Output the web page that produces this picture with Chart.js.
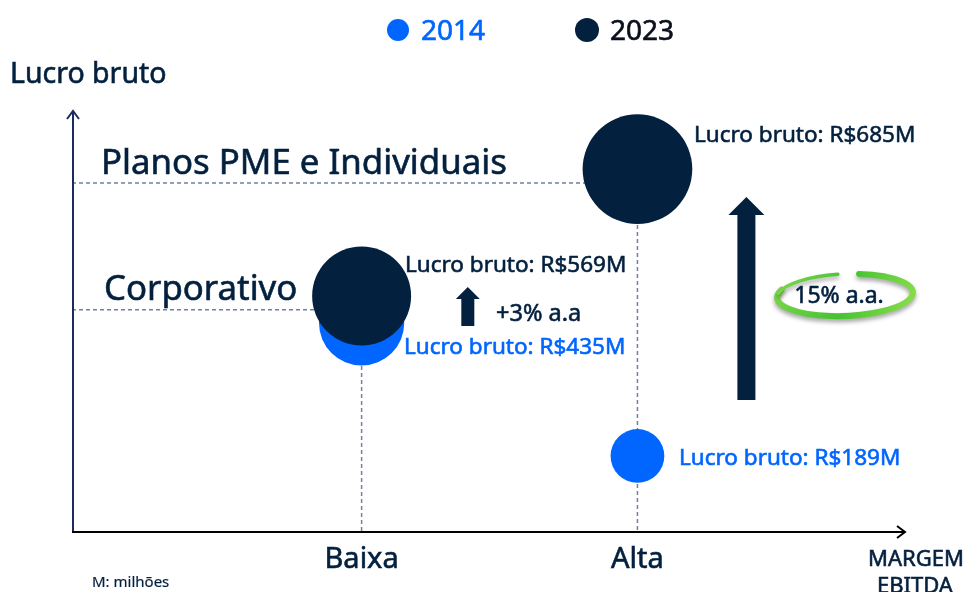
<!DOCTYPE html>
<html>
<head>
<meta charset="utf-8">
<script src="https://cdn.jsdelivr.net/npm/chart.js@4.4.1/dist/chart.umd.min.js"></script>
<style>
    html, body { margin: 0; padding: 0; background: #fff; }
    #wrap { width: 964px; height: 592px; position: relative; }
</style>
</head>
<body>
<div id="wrap"><canvas id="chart"></canvas></div>
<script>
// ---- data ----
const years = ['2014', '2023'];
const segments = ['Corporativo', 'Planos PME e Individuais'];
const marginLevels = ['Baixa', 'Alta'];
const segmentMargin = [1, 2];          // Baixa = 1, Alta = 2 on the margin axis
const lucro2014 = [435, 189];          // lucro bruto, R$ milhões
const lucro2023 = [569, 685];
const level2014 = [49.8, 18.1];        // schematic height on the lucro axis (0-100)
const level2023 = [56.2, 86.4];
const segmentLevel = [52.9, 83.1];     // dashed guide for each segment label
const growthLabels = ['+3% a.a', '15% a.a.'];

const COLORS = {
    blue: '#0066ff',
    navy: '#03203f',
    guide: '#6f7fa6',
    axisY: '#1b2b5e'
};
const FONT = '"Noto Sans", sans-serif';

// bubble radius grows with lucro bruto
const bubbleR = v => 1.4755 * Math.pow(v, 0.5537);

const points = (lucro, level) => lucro.map((v, i) => ({
    x: segmentMargin[i], y: level[i], r: bubbleR(v), v: v
}));

// text with a hairline stroke to get the heavier look of the original
const txt = (ctx, s, x, y, size, color, align, bold) => {
    ctx.font = size + 'px ' + FONT;
    ctx.fillStyle = color;
    ctx.strokeStyle = color;
    ctx.lineWidth = bold === undefined ? 0.6 : bold;
    ctx.textAlign = align || 'left';
    ctx.textBaseline = 'middle';
    ctx.fillText(s, x, y);
    if (ctx.lineWidth > 0) ctx.strokeText(s, x, y);
};

const upArrow = (ctx, cx, top, bottom, shaft, head, headH) => {
    ctx.beginPath();
    ctx.moveTo(cx, top);
    ctx.lineTo(cx + head / 2, top + headH);
    ctx.lineTo(cx + shaft / 2, top + headH);
    ctx.lineTo(cx + shaft / 2, bottom);
    ctx.lineTo(cx - shaft / 2, bottom);
    ctx.lineTo(cx - shaft / 2, top + headH);
    ctx.lineTo(cx - head / 2, top + headH);
    ctx.closePath();
    ctx.fillStyle = COLORS.navy;
    ctx.fill();
};

const guides = {
    id: 'guides',
    beforeDatasetsDraw(chart) {
        const { ctx, chartArea: a, scales: { x, y } } = chart;
        ctx.save();
        ctx.strokeStyle = COLORS.guide;
        ctx.lineWidth = 1.5;
        ctx.setLineDash([4, 3]);
        segments.forEach((s, i) => {
            const px = x.getPixelForValue(segmentMargin[i]);
            const top = Math.max(level2014[i], level2023[i]);
            ctx.beginPath();
            ctx.moveTo(a.left, y.getPixelForValue(segmentLevel[i]));
            ctx.lineTo(px, y.getPixelForValue(segmentLevel[i]));
            ctx.moveTo(px, y.getPixelForValue(top));
            ctx.lineTo(px, a.bottom);
            ctx.stroke();
        });
        ctx.restore();
    }
};

const overlay = {
    id: 'overlay',
    afterDatasetsDraw(chart) {
        const { ctx, chartArea: a, scales: { x, y } } = chart;
        ctx.save();

        // axes
        ctx.lineWidth = 2;
        ctx.strokeStyle = COLORS.axisY;
        ctx.beginPath();
        ctx.moveTo(a.left + 1, a.bottom);
        ctx.lineTo(a.left + 1, a.top - 1);
        ctx.moveTo(a.left - 5, a.top + 7);
        ctx.lineTo(a.left + 1, a.top - 1);
        ctx.lineTo(a.left + 7, a.top + 7);
        ctx.stroke();
        ctx.strokeStyle = '#000';
        ctx.beginPath();
        ctx.moveTo(a.left, a.bottom);
        ctx.lineTo(a.right, a.bottom);
        ctx.moveTo(a.right - 8, a.bottom - 6);
        ctx.lineTo(a.right, a.bottom);
        ctx.lineTo(a.right - 8, a.bottom + 6);
        ctx.stroke();

        // axis titles and ticks
        txt(ctx, 'Lucro bruto', 10, 75, 28.5, COLORS.navy);
        marginLevels.forEach((m, i) => {
            txt(ctx, m, x.getPixelForValue(segmentMargin[i]), 560, 29, COLORS.navy, 'center');
        });
        txt(ctx, 'MARGEM', 868, 560, 22, COLORS.navy);
        txt(ctx, 'EBITDA', 877, 587, 22, COLORS.navy);
        txt(ctx, 'M: milhões', 92, 583, 15, COLORS.navy, 'left', 0.2);

        // segment labels
        txt(ctx, segments[0], 104, y.getPixelForValue(segmentLevel[0]) - 20, 34.8, COLORS.navy);
        txt(ctx, segments[1], 101, y.getPixelForValue(segmentLevel[1]) - 19, 34.8, COLORS.navy);

        // lucro labels next to the bubbles
        const m14 = chart.getDatasetMeta(0).data;
        const m23 = chart.getDatasetMeta(1).data;
        const lab = v => 'Lucro bruto: R$' + v + 'M';
        txt(ctx, lab(lucro2023[0]), 405, m23[0].y - 30, 22.5, COLORS.navy);
        txt(ctx, lab(lucro2014[0]), 404, m14[0].y + 25, 22.5, COLORS.blue);
        txt(ctx, lab(lucro2023[1]), 694, m23[1].y - 34, 22.5, COLORS.navy);
        txt(ctx, lab(lucro2014[1]), 679, m14[1].y + 3, 22.5, COLORS.blue);

        // growth arrows
        const bx = x.getPixelForValue(2.395);
        upArrow(ctx, bx, 197, 400, 18, 36, 18);
        const sx = x.getPixelForValue(1.385);
        upArrow(ctx, sx, 287, 326, 13, 24, 12);
        txt(ctx, growthLabels[0], 496, 314, 23.5, COLORS.navy);

        // green ring around 15%: thin tail on the upper left, thicker stroke elsewhere
        ctx.save();
        ctx.shadowColor = 'rgba(0,0,0,0.35)';
        ctx.shadowBlur = 4;
        ctx.shadowOffsetY = 3;
        const g = ctx.createLinearGradient(775, 270, 915, 320);
        g.addColorStop(0, '#7fd84a');
        g.addColorStop(0.5, '#45c232');
        g.addColorStop(1, '#8fe04c');
        ctx.strokeStyle = g;
        ctx.lineCap = 'round';
        ctx.lineWidth = 6;
        ctx.beginPath();
        ctx.ellipse(845, 295, 68, 21, -0.04, -1.35, -1.35 + Math.PI * 1.55);
        ctx.stroke();
        ctx.lineWidth = 3.5;
        ctx.beginPath();
        ctx.ellipse(845, 295, 68, 21, -0.04, -1.35 + Math.PI * 1.5, -1.35 + Math.PI * 1.9);
        ctx.stroke();
        ctx.restore();
        txt(ctx, growthLabels[1], 839, 296, 23, COLORS.navy, 'center');

        // legend
        const lx = [398, 587];
        const lr = [11, 12];
        const lc = [COLORS.blue, COLORS.navy];
        const tc = [COLORS.blue, '#0a0f1a'];
        years.forEach((yr, i) => {
            ctx.beginPath();
            ctx.arc(lx[i], 30, lr[i], 0, Math.PI * 2);
            ctx.fillStyle = lc[i];
            ctx.fill();
            txt(ctx, yr, lx[i] + 23, 32, 28, tc[i]);
        });

        ctx.restore();
    }
};

new Chart(document.getElementById('chart'), {
    type: 'bubble',
    data: {
        datasets: [
            {
                label: years[0],
                data: points(lucro2014, level2014),
                backgroundColor: COLORS.blue,
                borderWidth: 0,
                order: 2,
                clip: false
            },
            {
                label: years[1],
                data: points(lucro2023, level2023),
                backgroundColor: COLORS.navy,
                borderWidth: 0,
                order: 1,
                clip: false
            }
        ]
    },
    options: {
        responsive: true,
        maintainAspectRatio: false,
        animation: false,
        layout: { padding: { left: 72, top: 112, right: 59, bottom: 60 } },
        plugins: {
            legend: { display: false },
            tooltip: { enabled: false }
        },
        scales: {
            x: { type: 'linear', min: -0.05, max: 2.97, display: false },
            y: { type: 'linear', min: 0, max: 100, display: false }
        }
    },
    plugins: [guides, overlay]
});
</script>
</body>
</html>
